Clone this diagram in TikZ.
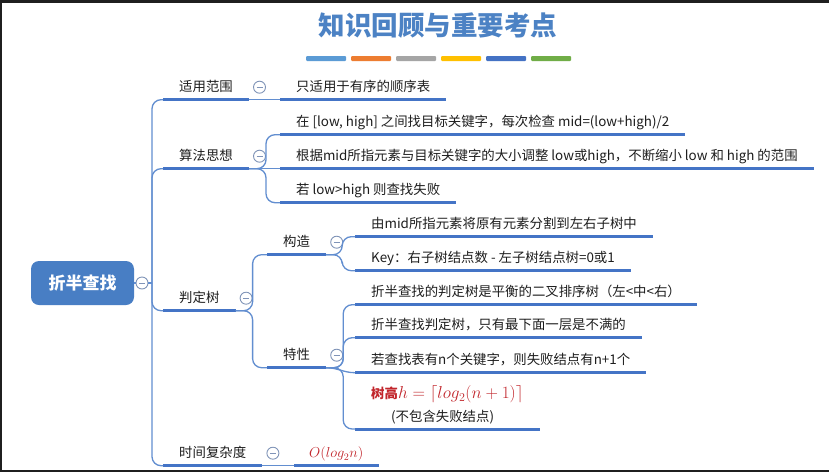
\documentclass[tikz,border=0pt]{standalone}
\usepackage{fontspec}
\setmainfont{Noto Sans CJK SC}
\usepackage{tikz}
\usetikzlibrary{calc, positioning}
\definecolor{titleblue}{RGB}{76,130,196}
\definecolor{rootblue}{RGB}{72,126,196}
\definecolor{lineblue}{RGB}{98,142,208}
\definecolor{ulblue}{RGB}{68,116,198}
\definecolor{foldgray}{RGB}{128,148,184}
\definecolor{txtgray}{RGB}{30,30,30}
\definecolor{hred}{RGB}{194,38,44}
\definecolor{barA}{RGB}{91,155,213}
\definecolor{barB}{RGB}{237,125,49}
\definecolor{barC}{RGB}{165,165,165}
\definecolor{barD}{RGB}{255,192,0}
\definecolor{barE}{RGB}{68,114,196}
\definecolor{barF}{RGB}{112,173,71}

\begin{document}
\begin{tikzpicture}[x=1pt, y=-1pt,
    conn/.style={draw=lineblue, line width=1.3pt},
    bracket/.style={conn, rounded corners=9pt},
    uline/.style={draw=ulblue, line width=3pt},
    topic/.style={anchor=west, inner xsep=16pt, inner ysep=0pt, minimum height=25pt,
        text height=11.5pt, text depth=1.7pt, text=txtgray,
        font=\fontsize{13.4pt}{16pt}\selectfont},
    fold/.style={circle, draw=foldgray, line width=0.9pt, minimum size=12pt, inner sep=0pt,
        path picture={\draw[foldgray, line width=0.9pt]
            ([xshift=-3pt]path picture bounding box.center) -- ([xshift=3pt]path picture bounding box.center);}},
    rootbox/.style={fill=rootblue, rounded corners=8pt, minimum width=103pt, minimum height=44pt,
        text=white, font=\fontsize{17pt}{20pt}\selectfont\bfseries}]
    % Frame
    \useasboundingbox (0,0) rectangle (829,472);
    \fill[black!88] (0,0) rectangle (829,472);
    \fill[white] (2,2.5) rectangle (829,470);

    % Title and colour bars
    \node[text=titleblue, font=\fontsize{26.5pt}{30pt}\selectfont\bfseries] (title) at (438,26) {知识回顾与重要考点};
    \foreach \c [count=\i from 0] in {barA,barB,barC,barD,barE,barF}
        \fill[\c, rounded corners=1pt] (306+45*\i,56) rectangle ++(40,5);

    % Root
    \node[rootbox] (root) at (82.5,283) {折半查找};
    \node[fold] (rc) at (142,283) {};
    \coordinate (trunk) at (152,283);

    % Main branches
    \node[topic] (b1) at (163,87) {适用范围};
    \node[topic] (b2) at (163,156) {算法思想};
    \node[topic] (b3) at (163,298) {判定树};
    \node[topic] (b4) at (163,453) {时间复杂度};

    % Leaves
    \node[topic] (a1) at (280,87) {只适用于有序的顺序表};
    \node[topic] (i1) at (280,122) {在 [low, high] 之间找目标关键字，每次检查 mid=(low+high)/2};
    \node[topic] (i2) at (280,156) {根据mid所指元素与目标关键字的大小调整 low或high，不断缩小 low 和 high 的范围};
    \node[topic] (i3) at (280,190) {若 low>high 则查找失败};
    \node[topic] (gz) at (267,242) {构造};
    \node[topic] (tx) at (267,355) {特性};
    \node[topic] (g1) at (355,224) {由mid所指元素将原有元素分割到左右子树中};
    \node[topic] (g2) at (355,258) {Key：右子树结点数 - 左子树结点树=0或1};
    \node[topic] (t1) at (355,292) {折半查找的判定树是平衡的二叉排序树（左<中<右）};
    \node[topic] (t2) at (355,325) {折半查找判定树，只有最下面一层是不满的};
    \node[topic] (t3) at (355,360) {若查找表有n个关键字，则失败结点有n+1个};
    \node[anchor=south west, inner xsep=16pt, inner ysep=4.5pt, align=left, text=txtgray,
        font=\fontsize{13.4pt}{23pt}\selectfont] (t4) at (355,429)
        {\textcolor{hred}{\bfseries 树高\fontsize{16.5pt}{23pt}\selectfont$h=\lceil log_2(n+1)\rceil$}\\
         \hspace*{20pt}(不包含失败结点)};
    \node[topic, inner xsep=15pt, text=hred, font=\fontsize{14.5pt}{16pt}\selectfont] (o1) at (294,453) {$O(log_2n)$};

    % Underlines
    \foreach \n in {b1,b2,b3,b4,a1,i1,i2,i3,gz,tx,g1,g2,t1,t2,t3,t4,o1}
        \draw[uline] (\n.south west) -- (\n.south east);

    % Fold markers
    \foreach \n in {b1,b2,b3,b4,gz,tx}
        \node[fold] (\n f) at ($(\n.south east)+(10.5,-12.5)$) {};

    % Trunk
    \draw[conn] (root.east) -- (rc.west);
    \draw[conn] (rc.east) -- (trunk);
    \foreach \n in {b1,b2,b3,b4}
        \draw[bracket] (trunk) |- (\n.south west);

    % Branch connectors
    \draw[conn] (b1.south east) -- (a1.south west);
    \draw[bracket] (b2.south east) -- ++(17,0) |- (i1.south west);
    \draw[conn] (b2.south east) -- (i2.south west);
    \draw[bracket] (b2.south east) -- ++(17,0) |- (i3.south west);
    \draw[bracket] (b3.south east) -- ++(17,0) |- (gz.south west);
    \draw[bracket] (b3.south east) -- ++(17,0) |- (tx.south west);
    \draw[bracket] (gz.south east) -- ++(16,0) |- (g1.south west);
    \draw[bracket] (gz.south east) -- ++(16,0) |- (g2.south west);
    \draw[bracket] (tx.south east) -- ++(17,0) |- (t1.south west);
    \draw[bracket] (tx.south east) -- ++(17,0) |- (t2.south west);
    \draw[conn] (tx.south east) to[out=0, in=180] (t3.south west);
    \draw[bracket] (tx.south east) -- ++(17,0) |- (t4.south west);
    \draw[conn] (b4.south east) -- (o1.south west);
\end{tikzpicture}
\end{document}
